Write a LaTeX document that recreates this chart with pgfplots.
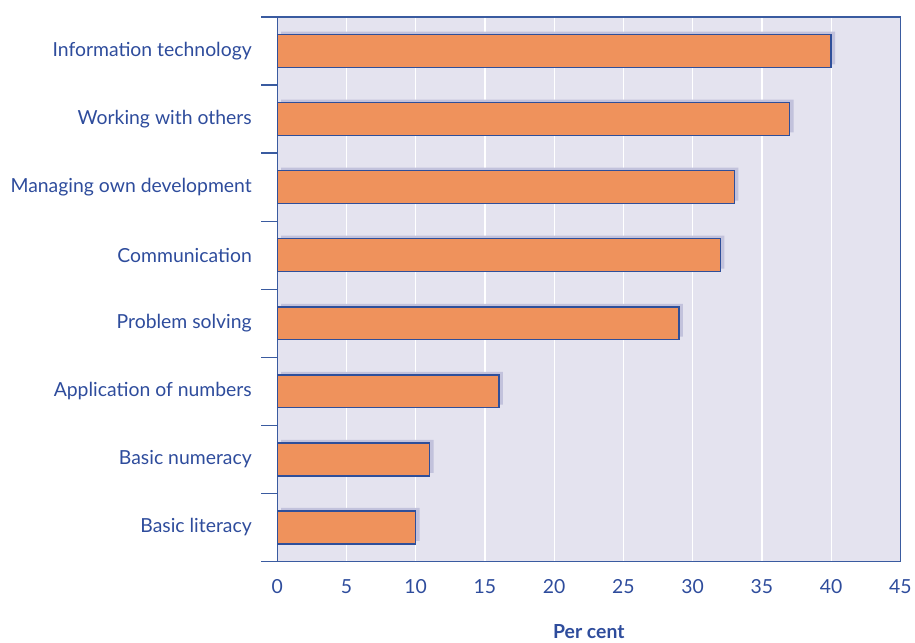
\documentclass[border=0pt]{standalone}
\usepackage{pgfplots}
\pgfplotsset{compat=1.18}
\usepackage{fontspec}
\setmainfont{Lato}
\definecolor{bgc}{HTML}{E4E3EF}
\definecolor{barc}{HTML}{EF925C}
\definecolor{edgec}{HTML}{2F4F9A}
\definecolor{shc}{HTML}{C2C2DC}
\definecolor{txtc}{HTML}{2E4C9C}
\definecolor{axc}{HTML}{3A5BA0}
\begin{document}
\begin{tikzpicture}
\begin{axis}[
  name=ax,
  scale only axis,
  width=625bp, height=546bp,
  xmin=0, xmax=45,
  ymin=-0.5, ymax=7.5,
  axis background/.style={fill=bgc},
  axis line style={axc, line width=1.3bp},
  xtick={0,5,...,45},
  ytick={0,...,7},
  yticklabels={Basic literacy,Basic numeracy,Application of numbers,Problem solving,Communication,Managing own development,Working with others,Information technology},
  minor ytick={-0.5,0.5,...,7.5},
  major tick length=0pt,
  minor tick length=16bp,
  tick align=outside,
  ytick pos=left, xtick pos=bottom,
  minor tick style={axc, line width=1.2bp},
  xmajorgrids,
  grid style={white, line width=1.2bp},
  yticklabel style={font=\fontsize{19.5}{22}\selectfont, text=txtc, xshift=-22bp},
  xticklabel style={font=\fontsize{19.5}{22}\selectfont, text=txtc, yshift=-15bp},
  /pgf/number format/assume math mode=true,
  xlabel={\textbf{Per cent}},
  xlabel style={font=\fontsize{19.5}{22}\selectfont, text=txtc, yshift=-24bp},
  bar width=33bp,
]
\addplot[xbar, bar shift=0pt, fill=shc, draw=none, xshift=4bp, yshift=3bp] coordinates {
(10,0) (11,1) (16,2) (29,3) (32,4) (33,5) (37,6) (40,7)};
\addplot[xbar, bar shift=0pt, fill=barc, draw=edgec, line width=1.5bp] coordinates {
(10,0) (11,1) (16,2) (29,3) (32,4) (33,5) (37,6) (40,7)};
\end{axis}
\path (ax.south west) ++(-278bp,-76bp) rectangle ++(915bp,639bp);
\end{tikzpicture}
\end{document}
